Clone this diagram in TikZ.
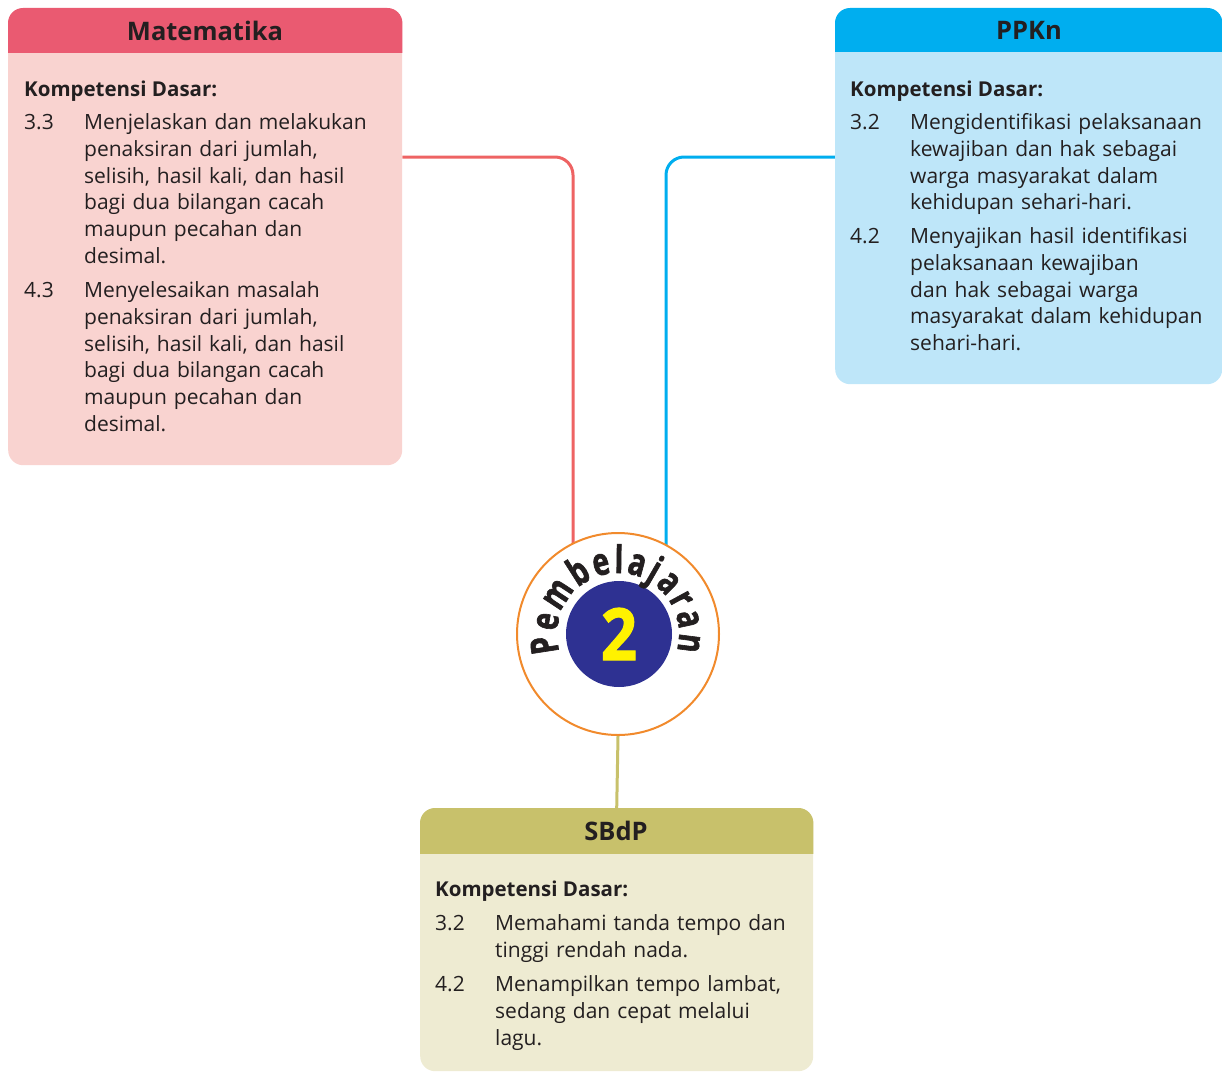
\documentclass[tikz,border=0pt]{standalone}
\usepackage{fontspec}
\setmainfont{Open Sans}
\newfontfamily\arcfont[FakeStretch=0.74,FakeBold=1.6]{Open Sans}
\newfontfamily\digfont[FakeStretch=0.88,FakeBold=1.5]{Open Sans}
\usetikzlibrary{decorations.text,backgrounds}
\definecolor{ink}{HTML}{231F20}
\definecolor{matH}{HTML}{EA5A71}
\definecolor{matB}{HTML}{F9D3D0}
\definecolor{matL}{HTML}{EE6363}
\definecolor{ppkH}{HTML}{00AEEF}
\definecolor{ppkB}{HTML}{BEE6F9}
\definecolor{sbdH}{HTML}{C8C16B}
\definecolor{sbdB}{HTML}{EEEBD2}
\definecolor{orng}{HTML}{F18A2C}
\definecolor{navy}{HTML}{2E3192}
\definecolor{yel}{HTML}{FFF200}
\begin{document}
\begin{tikzpicture}[x=1pt,y=1pt,
  box/.style={rounded corners=15pt, inner sep=0, anchor=north west},
  hdr/.style={font=\bfseries\fontsize{25.5}{28}\selectfont, text=ink, inner sep=0},
  kd/.style={font=\bfseries\fontsize{20.5}{24}\selectfont, text=ink, anchor=base west, inner sep=0},
  num/.style={font=\fontsize{21}{26.8}\selectfont, text=ink, anchor=base west, inner sep=0},
  item/.style={font=\fontsize{21}{26.8}\selectfont, text=ink, anchor=base west, inner sep=0, text width=330pt, align=left},
  conn/.style={line width=3pt, rounded corners=18pt}]
\useasboundingbox (0,0) rectangle (1222,-1073);

% boxes
\node[box, fill=matB, minimum width=394pt, minimum height=457pt] (mat) at (8,-8) {};
\node[box, fill=ppkB, minimum width=387pt, minimum height=376pt] (ppk) at (835,-8) {};
\node[box, fill=sbdB, minimum width=393pt, minimum height=263pt] (sbd) at (420,-808) {};

% headers
\begin{scope}
  \clip (mat.north west) rectangle ([yshift=-45pt]mat.north east);
  \fill[matH, rounded corners=15pt] (mat.north west) rectangle (mat.south east);
\end{scope}
\begin{scope}
  \clip (ppk.north west) rectangle ([yshift=-44pt]ppk.north east);
  \fill[ppkH, rounded corners=15pt] (ppk.north west) rectangle (ppk.south east);
\end{scope}
\begin{scope}
  \clip (sbd.north west) rectangle ([yshift=-45pt]sbd.north east);
  \fill[sbdH, rounded corners=15pt] (sbd.north west) rectangle (sbd.south east);
\end{scope}
\node[hdr] (matT) at (205,-31) {Matematika};
\node[hdr] (ppkT) at (1029,-30) {PPKn};
\node[hdr] (sbdT) at (616,-831) {SBdP};

% Matematika content
\node[kd] (matK) at (24,-96.5) {Kompetensi Dasar:};
\node[num] (matN1) at (24,-129.5) {3.3};
\node[item] (matI1) at (84,-129.5) {Menjelaskan dan melakukan\\ penaksiran dari jumlah,\\ selisih, hasil kali, dan hasil\\ bagi dua bilangan cacah\\ maupun pecahan dan\\ desimal.};
\node[num] (matN2) at (24,-297.5) {4.3};
\node[item] (matI2) at (84,-297.5) {Menyelesaikan masalah\\ penaksiran dari jumlah,\\ selisih, hasil kali, dan hasil\\ bagi dua bilangan cacah\\ maupun pecahan dan\\ desimal.};

% PPKn content
\node[kd] (ppkK) at (850,-96.5) {Kompetensi Dasar:};
\node[num] (ppkN1) at (850,-129.5) {3.2};
\node[item] (ppkI1) at (910,-129.5) {Mengidentifikasi pelaksanaan\\ kewajiban dan hak sebagai\\ warga masyarakat dalam\\ kehidupan sehari-hari.};
\node[num] (ppkN2) at (850,-243.5) {4.2};
\node[item] (ppkI2) at (910,-243.5) {Menyajikan hasil identifikasi\\ pelaksanaan kewajiban\\ dan hak sebagai warga\\ masyarakat dalam kehidupan\\ sehari-hari.};

% SBdP content
\node[kd] (sbdK) at (435,-896.5) {Kompetensi Dasar:};
\node[num] (sbdN1) at (435,-930.5) {3.2};
\node[item] (sbdI1) at (495,-930.5) {Memahami tanda tempo dan\\ tinggi rendah nada.};
\node[num] (sbdN2) at (435,-991.5) {4.2};
\node[item] (sbdI2) at (495,-991.5) {Menampilkan tempo lambat,\\ sedang dan cepat melalui\\ lagu.};

% central circle
\node[circle, draw=orng, line width=2pt, fill=white, minimum size=202pt, inner sep=0] (circ) at (618,-634) {};
\node[circle, fill=navy, minimum size=106pt, inner sep=0, text=yel, font=\digfont\bfseries\fontsize{72}{72}\selectfont] (two) at (619,-634) {2};
\path[decorate, decoration={text along path, text color=ink,
  text={|\arcfont\bfseries\fontsize{38}{38}\selectfont|Pembelajaran}, text align={fit to path}}]
  (circ.center) ++(197:61) arc[start angle=197, end angle=-16, radius=61];

% connectors
\begin{scope}[on background layer]
  \draw[conn, matL] (mat.north east |- 0,-157) -| ([xshift=-45pt]circ.center);
  \draw[conn, ppkH] (ppk.north west |- 0,-157) -| ([xshift=48pt]circ.center);
  \draw[line width=3pt, sbdH] (circ.south) -- (sbd.north);
\end{scope}
\end{tikzpicture}
\end{document}
